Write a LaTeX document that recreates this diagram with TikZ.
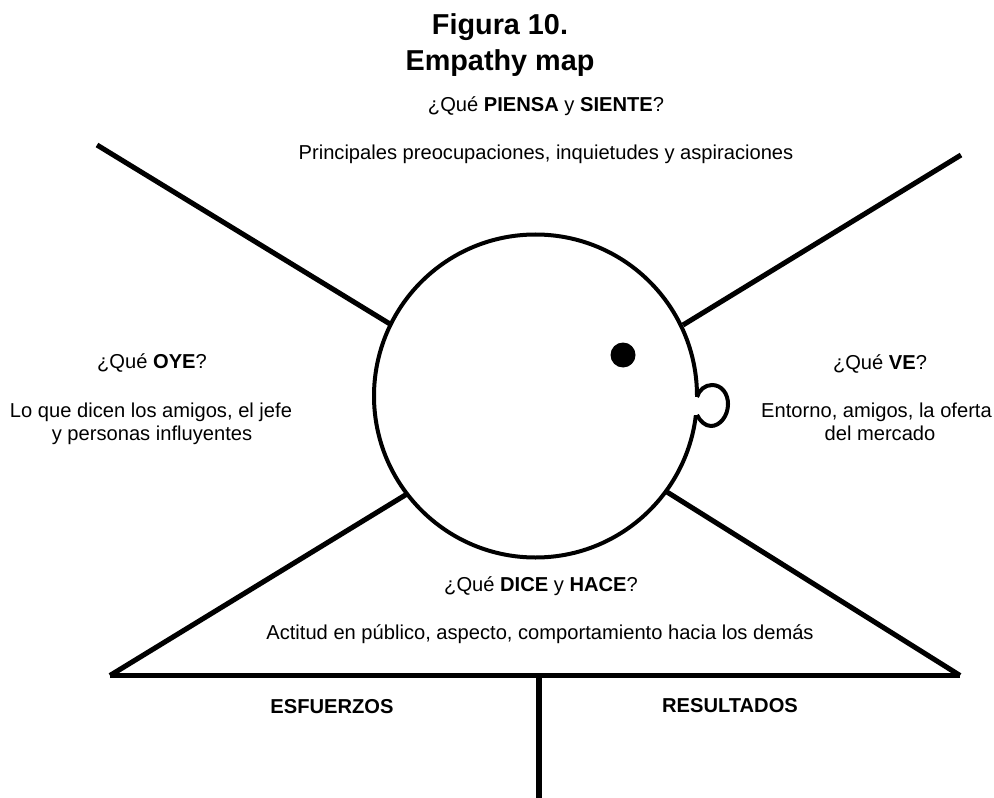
\documentclass[tikz,border=0pt]{standalone}
\usepackage{fontspec}
\setmainfont{Liberation Sans}
\tikzset{px/.style={x=0.75pt,y=-0.75pt},
 thick line/.style={line width=3.8pt,black},
 lab/.style={font=\fontsize{15.1}{22}\selectfont,align=center,inner sep=0pt,anchor=base},
 hdr/.style={font=\bfseries\fontsize{15.1}{22}\selectfont,inner sep=0pt,anchor=base},
 ttl/.style={font=\bfseries\fontsize{21.6}{26}\selectfont,inner sep=0pt,anchor=base}}
\begin{document}
\begin{tikzpicture}[px]
\useasboundingbox (0,0) rectangle (994,798);
\fill[white] (0,0) rectangle (994,798);
\node[ttl] (t1) at (500,35) {Figura 10.};
\node[ttl] (t2) at (500,71) {Empathy map};
\node[lab] (l1) at (546,112) {¿Qué \textbf{PIENSA} y \textbf{SIENTE}?};
\node[lab] (l2) at (546,160) {Principales preocupaciones, inquietudes y aspiraciones};
\node[lab] (l3) at (152,368) {¿Qué \textbf{OYE}?};
\node[lab] (l4a) at (151,417) {Lo que dicen los amigos, el jefe};
\node[lab] (l4b) at (152,440) {y personas influyentes};
\node[lab] (l5) at (880,369) {¿Qué \textbf{VE}?};
\node[lab] (l6a) at (876.5,417) {Entorno, amigos, la oferta};
\node[lab] (l6b) at (880,440) {del mercado};
\node[lab] (l7) at (541,591) {¿Qué \textbf{DICE} y \textbf{HACE}?};
\node[lab] (l8) at (540,639) {Actitud en público, aspecto, comportamiento hacia los demás};
\node[hdr] (l9) at (332,713) {ESFUERZOS};
\node[hdr] (l10) at (730,712) {RESULTADOS};
\coordinate (c) at (535.5,396);
\draw[line width=3pt] (c) circle (161.5);
\fill (623,355) circle (12.5);
\coordinate (ma) at (697,397);
\coordinate (mb) at (697,415);
\fill[white] (688,397) rectangle (705,415);
\draw[line width=3pt,line join=miter] (ma) .. controls (699,390) and (705,385) .. (712,385) .. controls (722,385) and (728,394) .. (728,404) .. controls (728,416) and (720,426) .. (711,426) .. controls (705,426) and (700,421) .. (mb);
\coordinate (a1) at (97,145); \coordinate (a2) at (390,324);
\coordinate (b1) at (961,155); \coordinate (b2) at (683,325);
\coordinate (d1) at (110,675.5); \coordinate (d2) at (407,494);
\coordinate (e1) at (960,675.5); \coordinate (e2) at (667,492);
\coordinate (f1) at (539,675.5); \coordinate (f2) at (539,798);
\draw[thick line] (a1) -- (a2);
\draw[thick line] (b1) -- (b2);
\draw[thick line] (d1) -- (d2);
\draw[thick line] (e1) -- (e2);
\draw[thick line] (d1) -- (e1);
\draw[thick line] (f1) -- (f2);
\end{tikzpicture}
\end{document}
